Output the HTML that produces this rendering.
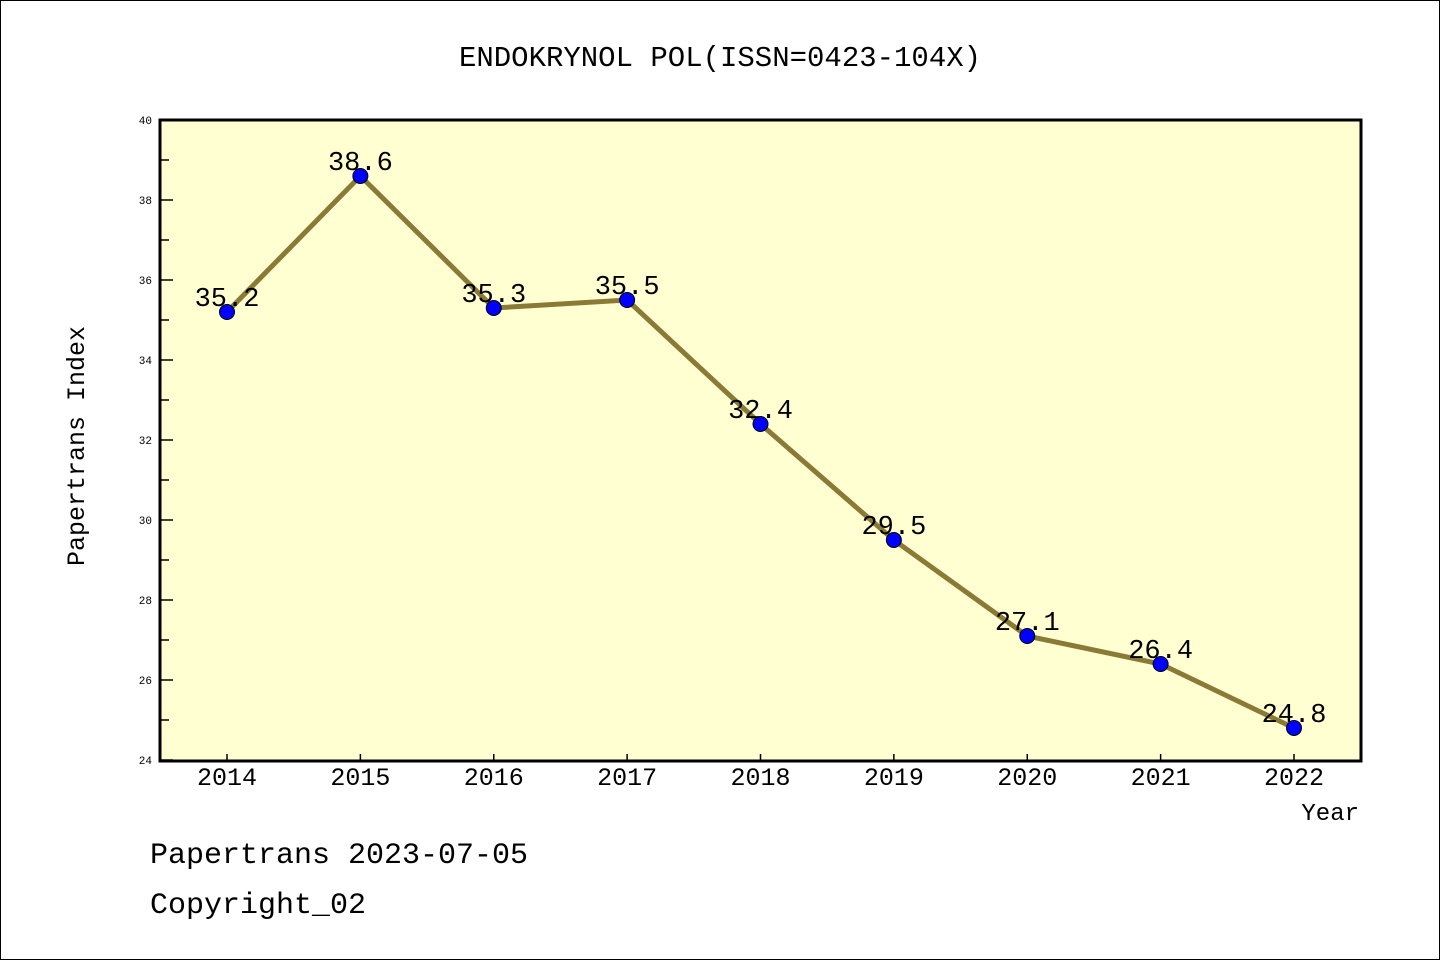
<!DOCTYPE html>
<html><head><meta charset="utf-8"><style>
body{margin:0;background:#fff}
svg text{font-family:"Liberation Mono","DejaVu Sans Mono",monospace}
</style></head><body>
<svg id="c" width="1440" height="960" xmlns="http://www.w3.org/2000/svg">
<rect x="0.5" y="0.5" width="1439" height="959" fill="#fff" stroke="#000"/>
<text x="720" y="66" font-size="29" text-anchor="middle">ENDOKRYNOL POL(ISSN=0423-104X)</text>
<rect x="160" y="120" width="1201" height="641" fill="#ffffd2"/>
<g id="ax"></g>
<g id="marks"></g>
<rect x="160" y="120" width="1201" height="641" fill="none" stroke="#000" stroke-width="3"/>
<text x="84" y="446" font-size="25" text-anchor="middle" transform="rotate(-90 84 446)">Papertrans Index</text>
<text x="1359" y="820" font-size="24" text-anchor="end">Year</text>
<text x="150" y="863" font-size="30">Papertrans 2023-07-05</text>
<text x="150" y="913" font-size="30">Copyright_02</text>
</svg>
<script>
const years=["2014","2015","2016","2017","2018","2019","2020","2021","2022"];
const values=[35.2,38.6,35.3,35.5,32.4,29.5,27.1,26.4,24.8];
const yTicks=[24,26,28,30,32,34,36,38,40];
const NS="http://www.w3.org/2000/svg";
const x=i=>227+i*(1294-227)/(years.length-1);
const y=v=>760-(v-24)*40;
function mk(t,a,p){const e=document.createElementNS(NS,t);for(const k in a)e.setAttribute(k,a[k]);p.appendChild(e);return e;}
const ax=document.getElementById('ax'),mg=document.getElementById('marks');
yTicks.forEach(v=>{
  const l=mk('line',{x1:160,x2:173,y1:y(v),y2:y(v),stroke:'#000','stroke-width':1.5},ax);
  
  
  const t=mk('text',{x:152,y:y(v)+4,'font-size':11,'text-anchor':'end'},ax);t.textContent=v;
  
  
  if(v<40){const m=mk('line',{x1:160,x2:169,y1:y(v+1),y2:y(v+1),stroke:'#000','stroke-width':1.5},ax);
  
  }
});
years.forEach((yr,i)=>{
  const l=mk('line',{x1:x(i),x2:x(i),y1:760,y2:754,stroke:'#000','stroke-width':1.5},ax);
  
  
  const t=mk('text',{x:x(i),y:785,'font-size':25,'text-anchor':'middle'},ax);t.textContent=yr;
  
  
});
const pl=mk('polyline',{points:values.map((v,i)=>x(i)+','+y(v)).join(' '),fill:'none',stroke:'#8b7a35','stroke-width':5},mg);


values.forEach((v,i)=>{
  const c=mk('circle',{cx:x(i),cy:y(v),r:7.5,fill:'#0000ff',stroke:'#000','stroke-width':1},mg);
  
  
  const t=mk('text',{x:x(i),y:y(v)-6,'font-size':27,'text-anchor':'middle'},mg);t.textContent=v.toFixed(1);
  
  
});
</script>
</body></html>
